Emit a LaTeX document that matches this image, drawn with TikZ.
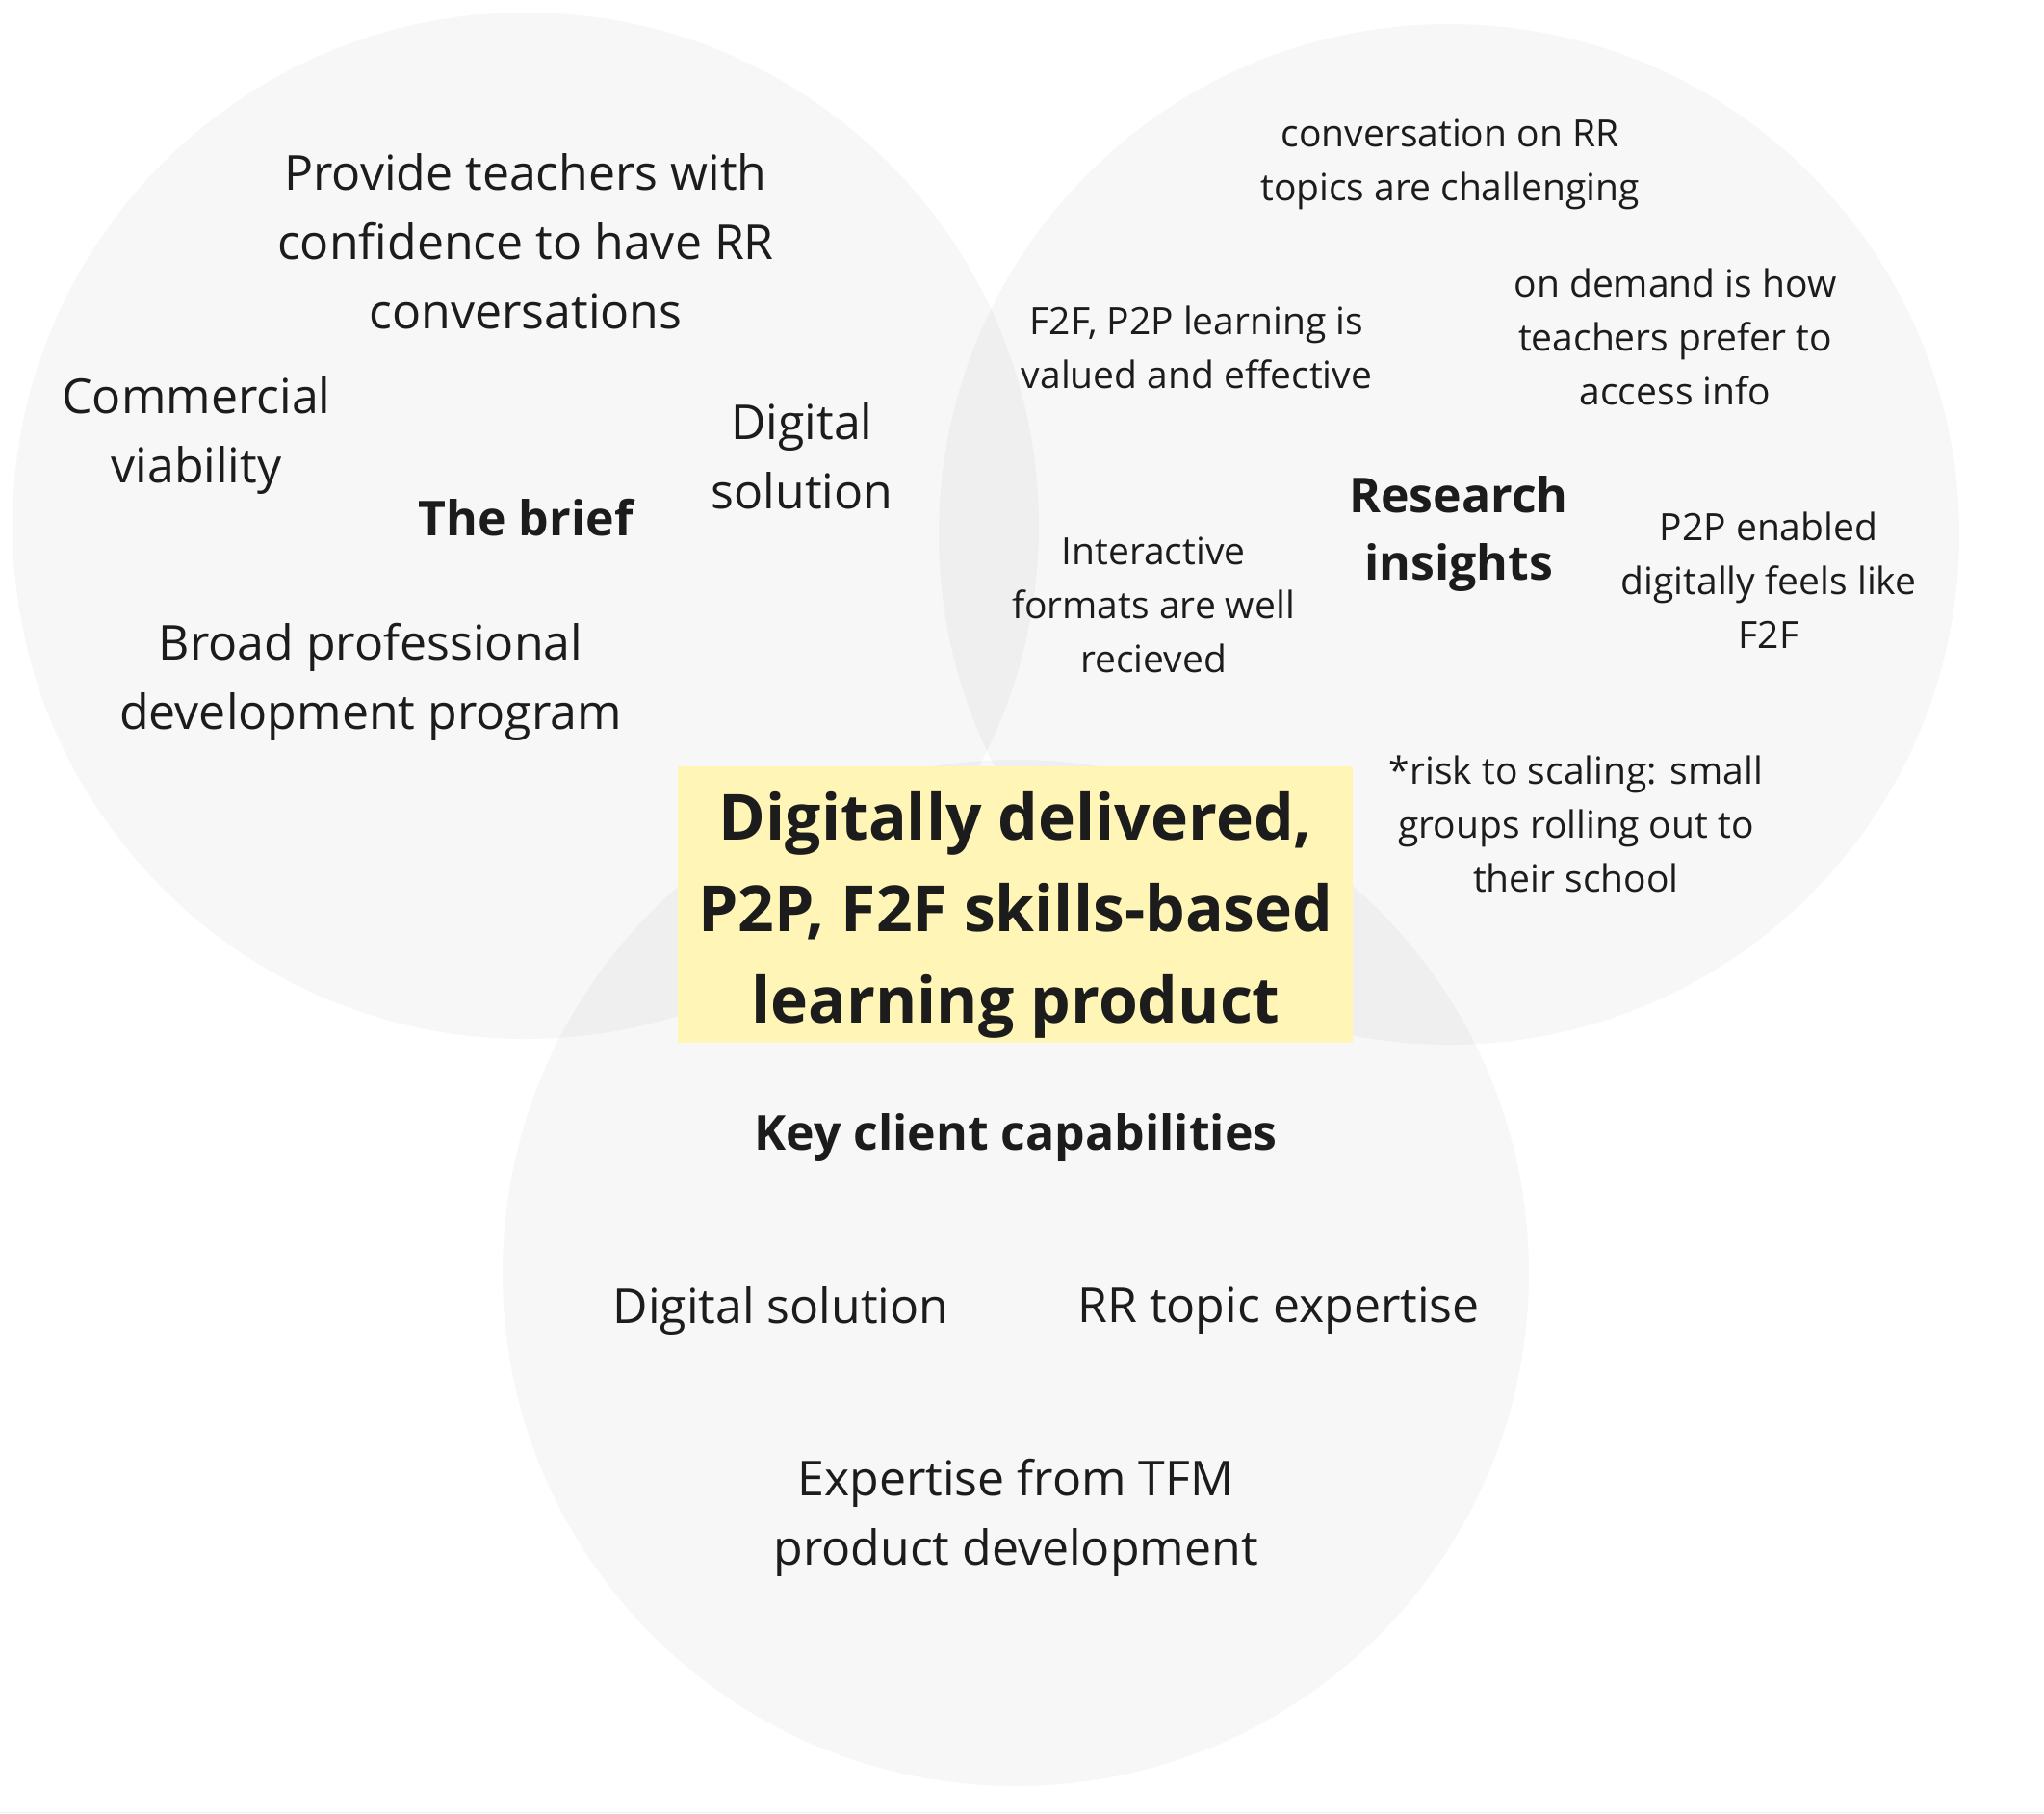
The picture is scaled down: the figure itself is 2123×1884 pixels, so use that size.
\documentclass[tikz,border=0pt]{standalone}
\usepackage{fontspec}
\setmainfont{Open Sans}
\definecolor{ink}{HTML}{1C1C1C}
\definecolor{boxyellow}{HTML}{FEF5B6}

\begin{document}
\begin{tikzpicture}[x=1pt, y=-1pt,
  venn/.style={fill=black, fill opacity=0.03},
  big/.style={font=\fontsize{50}{72}\selectfont, align=center, text=ink, inner sep=0pt},
  small/.style={font=\fontsize{39}{56}\selectfont, align=center, text=ink, inner sep=0pt},
  heading/.style={big, font=\fontsize{50}{70}\selectfont\bfseries},
  product/.style={text=ink, align=center, inner sep=0pt,
    font=\fontsize{66}{95}\selectfont\bfseries}]
  \useasboundingbox (0,0) rectangle (2123,1884);
  \fill[white] (0,0) rectangle (2123,1884);
  % the three circles
  \fill[venn] (546,546) circle[radius=533];
  \fill[venn] (1505,555) circle[radius=530];
  \fill[venn] (1055,1322) circle[radius=533];
  \draw[black!6] (0,1882) -- (2123,1882);

  % the brief
  \node[heading] (brief) at (546,538) {The brief};
  \node[big] (confidence) at (546,251) {Provide teachers with\\confidence to have RR\\conversations};
  \node[big] (viability) at (204,453) {Commercial\\viability};
  \node[big] (digital) at (833,474) {Digital\\solution};
  \node[big] (broad) at (385,708) {Broad professional\\development program};

  % research insights
  \node[heading] (research) at (1515,555) {Research\\insights};
  \node[small] (challenging) at (1506,171) {conversation on RR\\topics are challenging};
  \node[small] (ondemand) at (1740,350) {on demand is how\\teachers prefer to\\access info};
  \node[small] (peer) at (1243,361) {F2F, P2P learning is\\valued and effective};
  \node[small] (interactive) at (1198,628) {Interactive\\formats are well\\recieved};
  \node[small] (enabled) at (1837,603) {P2P enabled\\digitally feels like\\F2F};
  \node[small] (risk) at (1637,856) {*risk to scaling: small\\groups rolling out to\\their school};

  % key client capabilities
  \node[heading] (capabilities) at (1055,1181) {Key client capabilities};
  \node[big] (solution) at (811,1361) {Digital solution};
  \node[big] (topic) at (1328,1361) {RR topic expertise};
  \node[big] (tfm) at (1055,1576) {Expertise from TFM\\product development};

  % centre
  \fill[boxyellow] (704,796) rectangle (1405,1083);
  \node[product] (product) at (1055,950) {Digitally delivered,\\P2P, F2F skills-based\\learning product};
\end{tikzpicture}
\end{document}
